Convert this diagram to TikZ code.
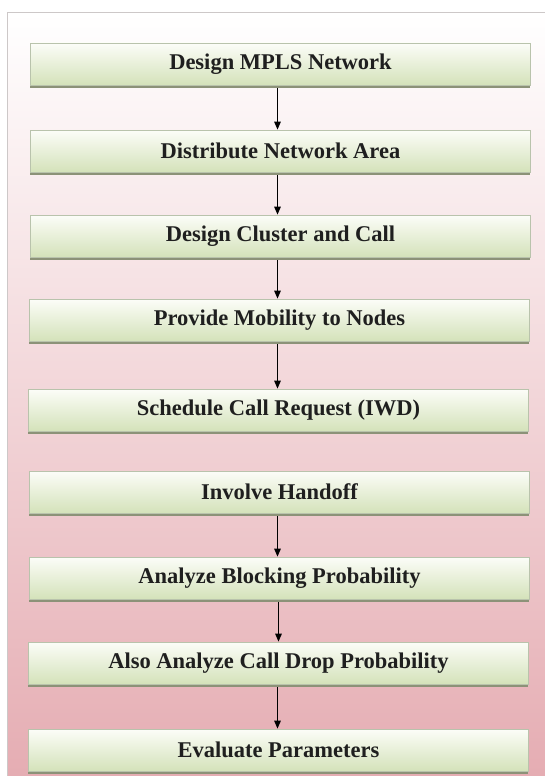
\documentclass[tikz,border=0pt]{standalone}
\usepackage{fontspec}
\setmainfont{Liberation Serif}
\usetikzlibrary{arrows.meta,shadows}
\definecolor{boxgreen}{RGB}{212,226,186}
\definecolor{boxtop}{RGB}{252,253,248}
\definecolor{boxborder}{RGB}{185,195,172}
\definecolor{boxshadow}{RGB}{140,146,120}
\definecolor{panelpink}{RGB}{229,172,178}
\definecolor{panelborder}{RGB}{205,200,200}
\begin{document}
\begin{tikzpicture}[x=1pt,y=1pt,
  stepbox/.style={minimum width=500pt, minimum height=42pt, inner sep=0pt,
    draw=boxborder, line width=0.7pt, top color=boxtop, bottom color=boxgreen,
    general shadow={fill=boxshadow, shadow xshift=-0.8pt, shadow yshift=-3pt},
    font=\fontsize{22.5}{26}\selectfont\bfseries, text=black!88},
  flow/.style={-{Triangle[length=8pt,width=6.5pt]}, line width=1.3pt, black}]
\useasboundingbox (0,0) rectangle (544,-776);
\fill[white] (0,0) rectangle (544,-776);
\shade[top color=white, bottom color=panelpink] (7,-13) rectangle (550,-782);
\draw[panelborder, line width=1pt] (7,-782) -- (7,-13) -- (550,-13);
\node[stepbox] (b1) at (280.5,-64)  {Design MPLS Network};
\node[stepbox] (b2) at (280.5,-151) {Distribute Network Area};
\node[stepbox] (b3) at (280.5,-236) {Design Cluster and Call};
\node[stepbox] (b4) at (279.5,-320) {Provide Mobility to Nodes};
\node[stepbox] (b5) at (278.5,-410) {Schedule Call Request (IWD)};
\node[stepbox] (b6) at (279.5,-492) {Involve Handoff};
\node[stepbox] (b7) at (279.5,-578) {Analyze Blocking Probability};
\node[stepbox] (b8) at (278.5,-663) {Also Analyze Call Drop Probability};
\node[stepbox] (b9) at (278.5,-750) {Evaluate Parameters};
\draw[flow] ([xshift=-3pt,yshift=-3pt]b1.south) -- ([xshift=-3pt]b1.south |- b2.north);
\draw[flow] ([xshift=-3pt,yshift=-3pt]b2.south) -- ([xshift=-3pt]b2.south |- b3.north);
\draw[flow] ([xshift=-3pt,yshift=-3pt]b3.south) -- ([xshift=-3pt]b3.south |- b4.north);
\draw[flow] ([xshift=-2pt,yshift=-3pt]b4.south) -- ([xshift=-2pt]b4.south |- b5.north);
\draw[flow] ([xshift=-2pt,yshift=-3pt]b6.south) -- ([xshift=-2pt]b6.south |- b7.north);
\draw[flow] ([xshift=-1pt,yshift=-3pt]b7.south) -- ([xshift=-1pt]b7.south |- b8.north);
\draw[flow] ([xshift=-1pt,yshift=-3pt]b8.south) -- ([xshift=-1pt]b8.south |- b9.north);
\end{tikzpicture}
\end{document}
